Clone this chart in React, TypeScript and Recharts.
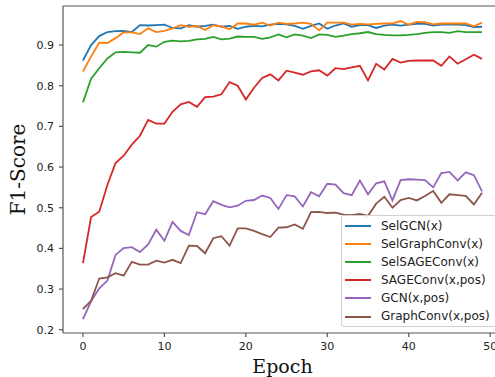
import { Line, LineChart, ReferenceLine, XAxis, YAxis } from "recharts";

const epochs = Array.from({ length: 50 }, (_, i) => i);

const selGCN = [
  0.862, 0.9, 0.922, 0.932, 0.934, 0.935, 0.932, 0.949, 0.948, 0.949, 0.95, 0.942, 0.941, 0.949, 0.945, 0.947,
  0.95, 0.945, 0.947, 0.94, 0.945, 0.947, 0.946, 0.95, 0.952, 0.951, 0.947, 0.94, 0.947, 0.953, 0.94, 0.948,
  0.953, 0.945, 0.949, 0.949, 0.942, 0.948, 0.95, 0.948, 0.95, 0.952, 0.952, 0.948, 0.95, 0.951, 0.95, 0.949,
  0.944, 0.945,
];
const selGraphConv = [
  0.835, 0.872, 0.906, 0.905, 0.917, 0.931, 0.931, 0.927, 0.941, 0.932, 0.935, 0.941, 0.949, 0.945, 0.947, 0.937,
  0.949, 0.946, 0.939, 0.953, 0.953, 0.95, 0.955, 0.948, 0.955, 0.952, 0.953, 0.955, 0.952, 0.936, 0.955, 0.955,
  0.955, 0.95, 0.952, 0.951, 0.952, 0.953, 0.953, 0.959, 0.95, 0.957, 0.956, 0.951, 0.953, 0.953, 0.953, 0.953,
  0.946, 0.955,
];
const selSAGEConv = [
  0.759, 0.817, 0.843, 0.867, 0.882, 0.883, 0.882, 0.881, 0.9, 0.896, 0.908, 0.911, 0.909, 0.91, 0.914, 0.915,
  0.92, 0.914, 0.916, 0.921, 0.92, 0.92, 0.915, 0.919, 0.926, 0.919, 0.926, 0.923, 0.917, 0.926, 0.925, 0.92,
  0.923, 0.927, 0.929, 0.932, 0.927, 0.925, 0.924, 0.924, 0.925, 0.927, 0.93, 0.932, 0.932, 0.93, 0.934, 0.932,
  0.932, 0.932,
];
const sageConvPos = [
  0.364, 0.477, 0.49, 0.556, 0.61, 0.628, 0.655, 0.677, 0.716, 0.707, 0.707, 0.736, 0.754, 0.76, 0.748, 0.772,
  0.773, 0.779, 0.809, 0.8, 0.766, 0.795, 0.819, 0.828, 0.813, 0.837, 0.832, 0.827, 0.835, 0.838, 0.825, 0.843,
  0.841, 0.845, 0.849, 0.813, 0.854, 0.84, 0.866, 0.857, 0.861, 0.862, 0.862, 0.862, 0.849, 0.872, 0.854, 0.865,
  0.876, 0.866,
];
const gcnPos = [
  0.226, 0.27, 0.302, 0.321, 0.384, 0.401, 0.403, 0.391, 0.41, 0.446, 0.419, 0.465, 0.443, 0.433, 0.489, 0.484,
  0.516, 0.507, 0.501, 0.505, 0.517, 0.519, 0.53, 0.524, 0.497, 0.531, 0.528, 0.503, 0.538, 0.528, 0.559, 0.557,
  0.536, 0.531, 0.567, 0.533, 0.56, 0.565, 0.518, 0.568, 0.57, 0.569, 0.568, 0.55, 0.585, 0.588, 0.567, 0.587,
  0.58, 0.54,
];
const graphConvPos = [
  0.251, 0.271, 0.326, 0.329, 0.339, 0.333, 0.367, 0.36, 0.36, 0.37, 0.365, 0.372, 0.364, 0.407, 0.406, 0.388,
  0.425, 0.43, 0.407, 0.449, 0.449, 0.443, 0.435, 0.428, 0.451, 0.452, 0.459, 0.448, 0.489, 0.49, 0.487, 0.488,
  0.483, 0.482, 0.485, 0.48, 0.51, 0.527, 0.5, 0.519, 0.524, 0.518, 0.529, 0.541, 0.512, 0.533, 0.531, 0.529,
  0.508, 0.537,
];

const xTicks = [0, 10, 20, 30, 40, 50];
const yTicks = [0.2, 0.3, 0.4, 0.5, 0.6, 0.7, 0.8, 0.9];

const series = [
  { key: "selGCN", name: "SelGCN(x)", color: "#1f77b4", values: selGCN },
  { key: "selGraphConv", name: "SelGraphConv(x)", color: "#ff7f0e", values: selGraphConv },
  { key: "selSAGEConv", name: "SelSAGEConv(x)", color: "#2ca02c", values: selSAGEConv },
  { key: "sageConvPos", name: "SAGEConv(x,pos)", color: "#d62728", values: sageConvPos },
  { key: "gcnPos", name: "GCN(x,pos)", color: "#9467bd", values: gcnPos },
  { key: "graphConvPos", name: "GraphConv(x,pos)", color: "#8c564b", values: graphConvPos },
];

const data = epochs.map((epoch, i) => {
  const row: Record<string, number> = { epoch };
  series.forEach((s) => (row[s.key] = s.values[i]));
  return row;
});

const Y_MIN = 0.192;
const Y_MAX = 0.996;
const spine = "#555";
const tickFont = { fill: "#222", fontSize: 11, fontFamily: "DejaVu Sans" };

function LegendBox() {
  return (
    <div
      style={{
        position: "absolute",
        left: 341,
        top: 215,
        width: 160,
        height: 112,
        border: "1px solid #d0d0d0",
        borderRadius: 3,
        background: "rgba(255,255,255,0.8)",
        boxSizing: "border-box",
        paddingTop: 1,
        fontFamily: "DejaVu Sans",
        fontSize: 12,
        lineHeight: "18.1px",
        color: "#222",
      }}
    >
      {series.map((s) => (
        <div key={s.key} style={{ display: "flex", alignItems: "center", height: 18.1 }}>
          <span style={{ display: "inline-block", width: 26, height: 2, background: s.color, marginLeft: 3 }} />
          <span style={{ marginLeft: 10, whiteSpace: "nowrap" }}>{s.name}</span>
        </div>
      ))}
    </div>
  );
}

export default function App() {
  return (
    <div style={{ position: "absolute", left: 0, top: 0, width: 495, height: 377, overflow: "hidden", background: "#fff" }}>
      <LineChart width={520} height={377} data={data} margin={{ top: 6, right: 18, left: 0, bottom: 0 }}>
        <XAxis
          dataKey="epoch"
          type="number"
          domain={[-2.45, 51.45]}
          ticks={xTicks}
          allowDataOverflow
          height={44}
          tickSize={4}
          tickMargin={5}
          stroke={spine}
          strokeWidth={1.2}
          tick={tickFont}
          label={{
            content: ({ viewBox }: any) => (
              <text
                x={viewBox.x + viewBox.width / 2}
                y={373}
                textAnchor="middle"
                fontFamily="DejaVu Serif"
                fontSize={19}
                fill="#111"
              >
                Epoch
              </text>
            ),
          }}
        />
        <YAxis
          type="number"
          domain={[Y_MIN, Y_MAX]}
          ticks={yTicks}
          allowDataOverflow
          width={63}
          tickSize={4}
          tickMargin={5}
          stroke={spine}
          strokeWidth={1.2}
          tick={tickFont}
          tickFormatter={(v: number) => v.toFixed(1)}
          label={{
            content: ({ viewBox }: any) => {
              const cx = 25;
              const cy = viewBox.y + viewBox.height / 2;
              return (
                <text
                  x={cx}
                  y={cy}
                  textAnchor="middle"
                  transform={`rotate(-90 ${cx} ${cy})`}
                  fontFamily="DejaVu Serif"
                  fontSize={20}
                  fill="#111"
                >
                  F1-Score
                </text>
              );
            },
          }}
        />
        <ReferenceLine y={Y_MAX} stroke={spine} strokeWidth={1.2} ifOverflow="visible" />
        {series.map((s) => (
          <Line
            key={s.key}
            dataKey={s.key}
            name={s.name}
            stroke={s.color}
            strokeWidth={1.8}
            dot={false}
            isAnimationActive={false}
          />
        ))}
      </LineChart>
      <LegendBox />
    </div>
  );
}
